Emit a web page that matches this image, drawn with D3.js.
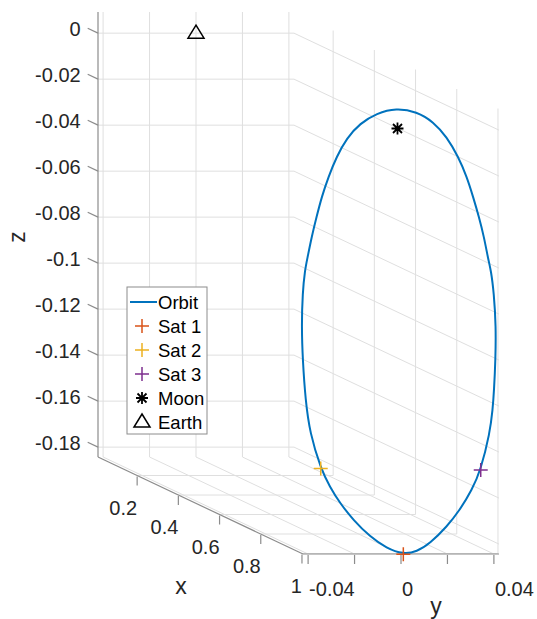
<!DOCTYPE html>
<html lang="en">
<meta charset="utf-8">
<head>
	<title>Orbit 3D</title>
	<script src="https://cdn.jsdelivr.net/npm/d3@7"></script>
	<style type="text/css">
		body { margin: 0; background: white; }
		.grid { stroke: #dfdfdf; stroke-width: 1; fill: none; }
		.axis { stroke: #8c8c8c; stroke-width: 1.2; fill: none; }
		.tickLabel { font-family: 'Liberation Sans', Arial, sans-serif; font-size: 20px; fill: #262626; }
		.axisLabel { font-family: 'Liberation Sans', Arial, sans-serif; font-size: 23px; fill: #262626; }
		.legendText { font-family: 'Liberation Sans', Arial, sans-serif; font-size: 18.5px; fill: #000; }
	</style>
</head>
<body>
<script type="text/javascript">

	// axis limits and ticks
	var xLim = [0.01, 1.005],
		yLim = [-0.0422, 0.0422],
		zLim = [-0.1843, 0.0092];
	var xTicks = [0.2, 0.4, 0.6, 0.8, 1],
		yTicks = [-0.04, -0.02, 0, 0.02, 0.04],
		yTickLabels = [-0.04, 0, 0.04],
		zTicks = [0, -0.02, -0.04, -0.06, -0.08, -0.1, -0.12, -0.14, -0.16, -0.18];

	// orbit (clockwise from the top)
	var orbitX = [0.988, 0.988, 0.989, 0.989, 0.990, 0.991, 0.991, 0.992, 0.993, 0.994, 0.994, 0.995, 0.996, 0.998, 0.999,
				  0.999, 1.000, 1.002, 1.003, 1.003, 1.004, 1.005, 1.005, 1.005, 1.005, 1.004, 1.004, 1.003, 1.002, 1.002,
				  1.000, 0.999, 0.998, 0.996, 0.995, 0.994, 0.994, 0.993, 0.992, 0.991, 0.991, 0.990, 0.989, 0.989, 0.988];
	var orbitY = [-0.0006, 0.0083, 0.0154, 0.0211, 0.0260, 0.0296, 0.0323, 0.0347, 0.0368, 0.0386, 0.0397, 0.0409, 0.0417, 0.0413, 0.0406,
				  0.0400, 0.0387, 0.0346, 0.0307, 0.0255, 0.0198, 0.0125, 0.0068, 0.0010, -0.0062, -0.0133, -0.0204, -0.0261, -0.0304, -0.0343,
				  -0.0388, -0.0406, -0.0417, -0.0420, -0.0415, -0.0404, -0.0393, -0.0374, -0.0352, -0.0329, -0.0300, -0.0264, -0.0220, -0.0162, -0.0090];
	var orbitZ = [0.0089, 0.0073, 0.0029, -0.0036, -0.0122, -0.0209, -0.0296, -0.0382, -0.0469, -0.0570, -0.0613, -0.0713, -0.0859, -0.1003, -0.1133,
				  -0.1219, -0.1319, -0.1479, -0.1566, -0.1653, -0.1725, -0.1797, -0.1833, -0.1844, -0.1818, -0.1768, -0.1696, -0.1623, -0.1552, -0.1472,
				  -0.1319, -0.1176, -0.1003, -0.0859, -0.0713, -0.0613, -0.0560, -0.0469, -0.0382, -0.0296, -0.0209, -0.0122, -0.0042, 0.0023, 0.0066];

	var satNames = ["Sat 1", "Sat 2", "Sat 3"],
		satX = [1.005, 1.002, 1.002],
		satY = [0.0010, -0.0343, 0.0346],
		satZ = [-0.1844, -0.1472, -0.1479],
		satColours = ["#D95319", "#EDB120", "#7E2F8E"];

	var moon = [0.988, 0, 0],
		earth = [0.01, 0, 0];

	var svg = d3.select("body")
				.append("svg")
				.attr("width", 537)
				.attr("height", 619);

	// oblique projection: y runs across, z up, x goes back-to-front diagonally
	var yScale = d3.scaleLinear().domain(yLim).range([98, 294]),
		zScale = d3.scaleLinear().domain(zLim).range([457, 12]),
		xDepthX = d3.scaleLinear().domain(xLim).range([0, 205]),
		xDepthY = d3.scaleLinear().domain(xLim).range([0, 97]);

	function proj(x, y, z) {
		return [yScale(y) + xDepthX(x), zScale(z) + xDepthY(x)];
	}

	var line = d3.line();

	function seg(a, b, cls) {
		svg.append("path")
		   .attr("class", cls)
		   .attr("d", line([a, b]));
	}

	// back wall (x = xmin)
	yTicks.forEach(function(y) { seg(proj(xLim[0], y, zLim[0]), proj(xLim[0], y, zLim[1]), "grid"); });
	zTicks.forEach(function(z) { seg(proj(xLim[0], yLim[0], z), proj(xLim[0], yLim[1], z), "grid"); });
	// right wall (y = ymax)
	xTicks.forEach(function(x) { seg(proj(x, yLim[1], zLim[0]), proj(x, yLim[1], zLim[1]), "grid"); });
	zTicks.forEach(function(z) { seg(proj(xLim[0], yLim[1], z), proj(xLim[1], yLim[1], z), "grid"); });
	// floor (z = zmin)
	xTicks.forEach(function(x) { seg(proj(x, yLim[0], zLim[0]), proj(x, yLim[1], zLim[0]), "grid"); });
	yTicks.forEach(function(y) { seg(proj(xLim[0], y, zLim[0]), proj(xLim[1], y, zLim[0]), "grid"); });

	// axis lines
	seg(proj(xLim[0], yLim[0], zLim[0]), proj(xLim[0], yLim[0], zLim[1]), "axis");
	seg(proj(xLim[0], yLim[0], zLim[0]), proj(xLim[1], yLim[0], zLim[0]), "axis");
	seg(proj(xLim[1], yLim[0], zLim[0]), proj(xLim[1], yLim[1], zLim[0]), "axis");

	// z ticks + labels
	zTicks.forEach(function(z) {
		var p = proj(xLim[0], yLim[0], z),
			q = proj(xLim[0] - 0.05, yLim[0], z);
		seg(p, q, "axis");
		svg.append("text")
		   .attr("class", "tickLabel")
		   .attr("text-anchor", "end")
		   .attr("x", q[0] - 7)
		   .attr("y", q[1] + 8)
		   .text(String(z));
	});

	// x ticks + labels
	xTicks.forEach(function(x) {
		var p = proj(x, yLim[0], zLim[0]);
		seg([p[0], p[1] + 1], [p[0], p[1] + 10], "axis");
		svg.append("text")
		   .attr("class", "tickLabel")
		   .attr("text-anchor", "end")
		   .attr("x", p[0])
		   .attr("y", p[1] + 39)
		   .text(String(x));
	});

	// y ticks + labels
	yTicks.forEach(function(y) {
		var p = proj(xLim[1], y, zLim[0]);
		seg([p[0], p[1] + 1], [p[0], p[1] + 10], "axis");
	});
	yTickLabels.forEach(function(y) {
		var p = proj(xLim[1], y, zLim[0]);
		svg.append("text")
		   .attr("class", "tickLabel")
		   .attr("text-anchor", "start")
		   .attr("x", p[0] + 1)
		   .attr("y", p[1] + 42)
		   .text(String(y));
	});

	// axis labels
	svg.append("text").attr("class", "axisLabel").attr("text-anchor", "middle")
	   .attr("dominant-baseline", "central")
	   .attr("transform", "translate(17,237)rotate(-90)").text("z");
	svg.append("text").attr("class", "axisLabel").attr("text-anchor", "middle")
	   .attr("x", 181).attr("y", 594).text("x");
	svg.append("text").attr("class", "axisLabel").attr("text-anchor", "middle")
	   .attr("x", 436).attr("y", 614).text("y");

	// orbit
	var orbitPts = orbitX.map(function(x, i) { return proj(x, orbitY[i], orbitZ[i]); });
	svg.append("path")
	   .attr("d", d3.line().curve(d3.curveBasisClosed)(orbitPts))
	   .attr("fill", "none")
	   .attr("stroke", "#0072BD")
	   .attr("stroke-width", 2);

	var crossPath = "M-7,0H7M0,-7V7",
		starPath = "M-6,0H6M0,-6V6M-4.5,-4.5L4.5,4.5M-4.5,4.5L4.5,-4.5",
		triPath = "M0,-7L8,6L-8,6Z";

	satNames.forEach(function(n, i) {
		var p = proj(satX[i], satY[i], satZ[i]);
		svg.append("path")
		   .attr("transform", "translate(" + p[0] + "," + p[1] + ")")
		   .attr("d", crossPath)
		   .attr("stroke", satColours[i])
		   .attr("stroke-width", 1.5);
	});

	var mp = proj(moon[0], moon[1], moon[2]);
	svg.append("path")
	   .attr("transform", "translate(" + mp[0] + "," + mp[1] + ")")
	   .attr("d", starPath)
	   .attr("stroke", "black")
	   .attr("stroke-width", 1.8);

	var ep = proj(earth[0], earth[1], earth[2]);
	svg.append("path")
	   .attr("transform", "translate(" + ep[0] + "," + (ep[1] - 1) + ")")
	   .attr("d", triPath)
	   .attr("fill", "none")
	   .attr("stroke", "black")
	   .attr("stroke-width", 1.5);

	// legend
	svg.append("rect")
	   .attr("x", 127).attr("y", 287)
	   .attr("width", 80).attr("height", 147)
	   .attr("fill", "white")
	   .attr("stroke", "#8c8c8c")
	   .attr("stroke-width", 1);

	var legendNames = ["Orbit"].concat(satNames).concat(["Moon", "Earth"]);
	legendNames.forEach(function(n, i) {
		var ly = 302 + i * 24;
		if (i == 0) {
			svg.append("path").attr("d", line([[130, ly], [157, ly]]))
			   .attr("stroke", "#0072BD").attr("stroke-width", 2);
		} else if (i <= 3) {
			svg.append("path").attr("transform", "translate(142," + ly + ")")
			   .attr("d", crossPath).attr("stroke", satColours[i - 1]).attr("stroke-width", 1.5);
		} else if (i == 4) {
			svg.append("path").attr("transform", "translate(142," + ly + ")")
			   .attr("d", starPath).attr("stroke", "black").attr("stroke-width", 1.8);
		} else {
			svg.append("path").attr("transform", "translate(142," + (ly - 1) + ")")
			   .attr("d", triPath).attr("fill", "none").attr("stroke", "black").attr("stroke-width", 1.5);
		}
		svg.append("text")
		   .attr("class", "legendText")
		   .attr("x", 158)
		   .attr("y", ly + 6.5)
		   .text(n);
	});

</script>
</body>
</html>
